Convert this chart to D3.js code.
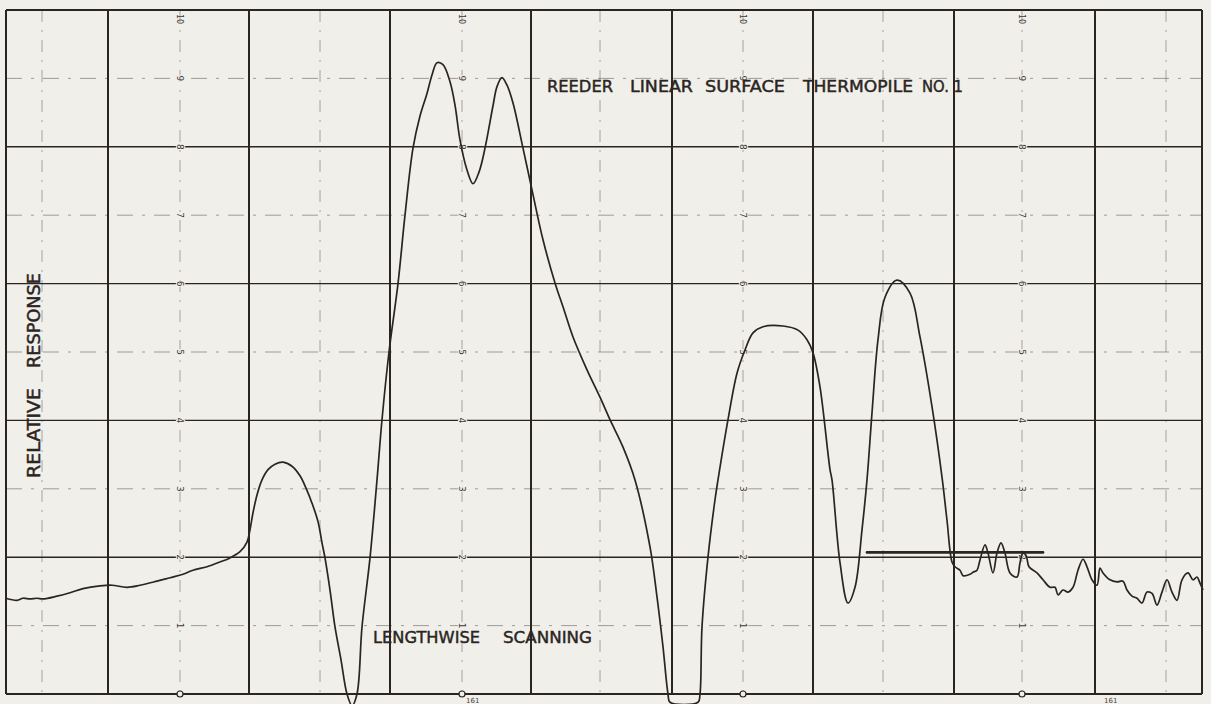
<!DOCTYPE html>
<html>
<head>
<meta charset="utf-8">
<script src="https://cdn.jsdelivr.net/npm/d3@7"></script>
<style>
  html, body { margin: 0; padding: 0; background: #f1efea; }
  svg { display: block; }
</style>
</head>
<body>
<div id="chart"></div>
<script>
// ---------------- data (read from the recording) ----------------
// scan position (arbitrary chart units) and relative response
const scanPos = [0,1.1,1.7,2.4,3.1,3.7,5.1,6.4,7.7,9.4,10.6,12.1,13.4,15.1,16.4,17.7,18.7,20.1,21.4,22.4,23.4,24.1,24.4,24.7,25.1,25.6,26.2,26.9,27.7,28.6,29.4,30.0,30.6,31.2,31.6,31.9,32.4,32.9,33.5,34.1,34.6,35.1,35.6,36.4,37.1,37.6,38.3,39.2,39.9,40.7,41.4,42.1,42.6,43.1,43.7,44.4,44.9,45.4,46.1,46.7,47.3,47.9,48.7,49.1,49.6,50.1,50.7,51.7,52.6,53.7,54.9,55.7,56.7,58.1,59.4,60.4,61.7,62.9,64.4,65.1,65.7,66.2,66.4,69.2,69.4,69.6,70.2,70.9,71.2,72.2,73.1,73.9,74.7,75.7,77.7,79.2,80.1,80.7,81.4,82.4,82.6,83.4,84.2,84.9,85.6,86.1,86.6,87.2,87.9,89.1,90.4,91.4,92.6,93.6,94.1,94.6,94.9,95.4,95.7,96.4,96.7,97.1,97.4,97.9,98.2,98.7,99.1,99.5,99.9,100.4,101.1,101.4,101.7,102.0,102.3,103.1,103.7,104.4,104.9,105.2,105.7,106.2,106.7,107.2,107.7,108.1,108.6,109.1,109.4,109.7,110.4,111.1,111.7,112.1,112.6,113.1,113.6,114.1,114.6,115.1,115.6,116.1,116.6,117.1,117.6,118.2,118.7,119.1,119.4,119.7];
const response = [1.40,1.37,1.40,1.39,1.40,1.39,1.43,1.48,1.54,1.58,1.59,1.56,1.59,1.65,1.70,1.75,1.81,1.86,1.93,1.99,2.08,2.22,2.40,2.65,2.91,3.13,3.28,3.36,3.39,3.33,3.19,3.01,2.79,2.52,2.21,1.99,1.52,0.98,0.50,0.00,-0.17,0.00,0.98,1.99,3.13,4.01,5.00,6.00,7.00,7.98,8.45,8.78,9.05,9.23,9.20,8.95,8.61,8.10,7.66,7.46,7.63,7.98,8.60,8.88,9.01,8.90,8.64,7.98,7.37,6.64,6.01,5.66,5.22,4.74,4.34,4.01,3.61,3.13,2.15,1.42,0.69,0.00,-0.12,-0.12,0.00,0.98,2.00,2.84,3.13,4.01,4.69,5.03,5.28,5.37,5.38,5.32,5.18,4.99,4.49,3.28,3.13,1.92,1.33,1.56,2.40,3.13,4.11,5.18,5.80,6.05,5.86,5.22,4.20,3.17,2.54,1.93,1.86,1.81,1.73,1.75,1.78,1.81,1.96,2.18,2.06,1.77,2.06,2.21,2.06,1.77,1.71,1.92,2.06,2.03,1.86,1.77,1.67,1.56,1.56,1.45,1.52,1.49,1.56,1.81,1.97,1.86,1.67,1.59,1.84,1.77,1.67,1.64,1.65,1.52,1.43,1.40,1.33,1.49,1.47,1.30,1.49,1.67,1.49,1.37,1.67,1.77,1.67,1.71,1.62,1.52];

// reference marker line (start, end, level)
const markerPos = [86.1, 103.7];
const markerLevel = [2.07];

// chart paper grid
const majorX = [10.2, 24.3, 38.4, 52.5, 66.6, 80.7, 94.8, 108.9];
const minorX = [3.6, 17.4, 31.4, 45.6, 59.4, 73.7, 87.7, 101.6, 116.0];
const majorY = [0, 2, 4, 6, 8, 10];
const minorY = [1, 3, 5, 7, 9];
const paperNumberX = [17.4, 45.6, 73.7, 101.6];
const paperNumbers = ["1","2","3","4","5","6","7","8","9"];

// text
const titleWords = ["REEDER", "LINEAR", "SURFACE", "THERMOPILE", "NO. 1"];
const yLabelWords = ["RELATIVE", "RESPONSE"];
const xLabelWords = ["LENGTHWISE", "SCANNING"];
const footerLabels = ["161", "161"];

// ---------------- drawing ----------------
const W = 1211, H = 704;
const ink = "#2a2522";
const paper = "#f1efea";
const svg = d3.select("#chart").append("svg").attr("width", W).attr("height", H);
svg.append("rect").attr("width", W).attr("height", H).attr("fill", paper);

const x = d3.scaleLinear().domain([0, 119.6]).range([6, 1202]);
const y = d3.scaleLinear().domain([0, 10]).range([694, 10]);

const g = svg.append("g");

// minor horizontal dash-dot lines
g.selectAll(".minY").data(minorY).join("line")
  .attr("x1", x(0)).attr("x2", x(119.6))
  .attr("y1", d => y(d)).attr("y2", d => y(d))
  .attr("stroke", "#6a6460").attr("stroke-width", 1)
  .attr("stroke-dasharray", "16,9,3,9").attr("opacity", 0.6);

// minor vertical dashed lines
g.selectAll(".minX").data(minorX).join("line")
  .attr("x1", d => x(d)).attr("x2", d => x(d))
  .attr("y1", y(10)).attr("y2", y(0))
  .attr("stroke", "#6a6460").attr("stroke-width", 1)
  .attr("stroke-dasharray", "12,8,2,8").attr("opacity", 0.55);

// major horizontal lines
g.selectAll(".majY").data(majorY).join("line")
  .attr("x1", x(0)).attr("x2", x(119.6))
  .attr("y1", d => y(d)).attr("y2", d => y(d))
  .attr("stroke", ink).attr("stroke-width", d => (d === 0 || d === 10) ? 2 : 1.4);

// major vertical lines
g.selectAll(".majX").data(majorX).join("line")
  .attr("x1", d => x(d)).attr("x2", d => x(d))
  .attr("y1", y(10)).attr("y2", y(0))
  .attr("stroke", ink).attr("stroke-width", 2);

// frame sides
g.selectAll(".frame").data([0, 119.6]).join("line")
  .attr("x1", d => x(d)).attr("x2", d => x(d))
  .attr("y1", y(10)).attr("y2", y(0))
  .attr("stroke", ink).attr("stroke-width", 2);

// paper numbers (printed sideways)
paperNumberX.forEach(px => {
  paperNumbers.forEach((t, i) => {
    const val = i + 1;
    g.append("text")
      .attr("transform", `translate(${x(px)},${y(val)}) rotate(90)`)
      .attr("text-anchor", "middle").attr("dy", "0.35em")
      .attr("font-family", "DejaVu Sans, sans-serif").attr("font-size", 9)
      .attr("fill", "#3e3834").attr("paint-order", "stroke")
      .attr("stroke", paper).attr("stroke-width", 2).text(t);
  });
  g.append("text")
    .attr("transform", `translate(${x(px)},${y(10) + 9}) rotate(90)`)
    .attr("text-anchor", "middle").attr("dy", "0.35em")
    .attr("font-family", "DejaVu Sans, sans-serif").attr("font-size", 8)
    .attr("fill", "#3e3834").text("10");
  g.append("circle").attr("cx", x(px)).attr("cy", y(0)).attr("r", 3)
    .attr("fill", paper).attr("stroke", ink).attr("stroke-width", 1.2);
});

// reference marker line
g.append("line")
  .attr("x1", x(markerPos[0])).attr("x2", x(markerPos[1]))
  .attr("y1", y(markerLevel[0])).attr("y2", y(markerLevel[0]))
  .attr("stroke", ink).attr("stroke-width", 2.6).attr("stroke-linecap", "round");

// recorded trace
const pts = scanPos.map((p, i) => [p, response[i]]);
g.append("path").datum(pts)
  .attr("fill", "none").attr("stroke", ink).attr("stroke-width", 1.7)
  .attr("stroke-linejoin", "round")
  .attr("d", d3.line().x(d => x(d[0])).y(d => y(d[1])).curve(d3.curveCatmullRom.alpha(0.5)));

// texts
const font = "DejaVu Sans, Verdana, sans-serif";
function label(sel) {
  return sel.attr("font-family", font).attr("fill", ink)
    .attr("stroke", ink).attr("stroke-width", 0.45)
    .attr("lengthAdjust", "spacingAndGlyphs");
}
const titleX = [547, 630, 705, 803, 922];
const titleLen = [66, 63, 80, 110, 41];
titleWords.forEach((w, i) => {
  label(svg.append("text")).attr("x", titleX[i]).attr("y", 92)
    .attr("font-size", 16).attr("textLength", titleLen[i]).text(w);
});

const xlX = [373, 503], xlLen = [107, 89];
xLabelWords.forEach((w, i) => {
  label(svg.append("text")).attr("x", xlX[i]).attr("y", 643)
    .attr("font-size", 16.5).attr("textLength", xlLen[i]).text(w);
});

const ylStart = [478, 368], ylLen = [90, 95];
yLabelWords.forEach((w, i) => {
  label(svg.append("text"))
    .attr("transform", `translate(40,${ylStart[i]}) rotate(-90)`)
    .attr("font-size", 17).attr("textLength", ylLen[i]).text(w);
});

const footX = [466, 1104];
footerLabels.forEach((t, i) => {
  svg.append("text").attr("x", footX[i]).attr("y", 703)
    .attr("font-family", font).attr("font-size", 7).attr("fill", "#4a4440").text(t);
});
</script>
</body>
</html>
